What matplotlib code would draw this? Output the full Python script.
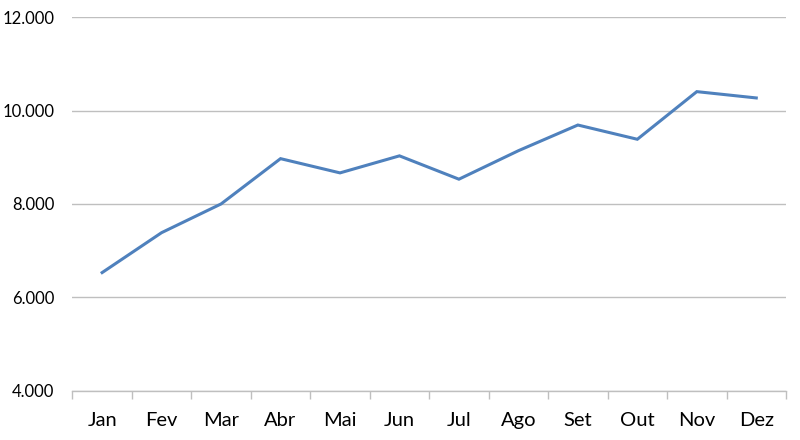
import matplotlib
matplotlib.use("Agg")
import matplotlib.pyplot as plt
from matplotlib.ticker import FuncFormatter

months = ["Jan", "Fev", "Mar", "Abr", "Mai", "Jun", "Jul", "Ago", "Set", "Out", "Nov", "Dez"]
values = [6530, 7385, 8000, 8970, 8665, 9030, 8530, 9140, 9690, 9385, 10405, 10270]
y_ticks = [4000, 6000, 8000, 10000, 12000]

plt.rcParams['font.family'] = ['Lato', 'DejaVu Sans']

fig = plt.figure(figsize=(8, 4.4), dpi=100)
ax = fig.add_axes([0.0905, 0.112, 0.892, 0.849])

x = list(range(len(months)))
ax.plot(x, values, color="#4F81BD", lw=2.2, solid_joinstyle="miter", zorder=3)

ax.set_xlim(-0.5, len(months) - 0.5)
ax.set_ylim(4000, 12000)
ax.set_yticks(y_ticks)
ax.yaxis.set_major_formatter(FuncFormatter(lambda v, p: f"{int(v):,}".replace(",", ".")))
ax.set_xticks(x)
ax.set_xticklabels(months)
ax.set_xticks([i - 0.5 for i in range(len(months) + 1)], minor=True)

ax.grid(axis="y", color="#BFBFBF", lw=1)
ax.set_axisbelow(True)
for s in ["top", "right", "left"]:
    ax.spines[s].set_visible(False)
ax.spines["bottom"].set_color("#BFBFBF")
ax.spines["bottom"].set_linewidth(1)

ax.tick_params(axis="y", length=0, pad=13, labelsize=12, labelcolor="#000000")
ax.tick_params(axis="x", which="major", length=0, pad=15, labelsize=14.5)
ax.tick_params(axis="x", which="minor", length=6, color="#BFBFBF", width=1)

fig.savefig("out.png", dpi=100)
